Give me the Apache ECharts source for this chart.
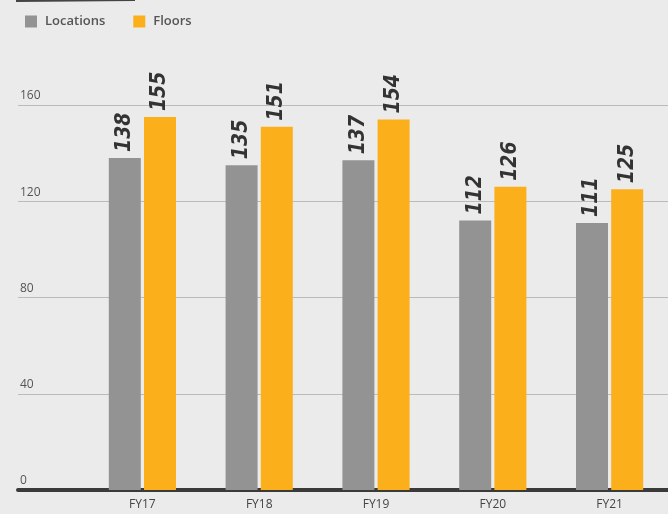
<!DOCTYPE html>
<html><head><meta charset="utf-8">
<style>html,body{margin:0;padding:0;background:#ebebeb;}#c{width:668px;height:514px;}</style>
<script src="https://cdn.jsdelivr.net/npm/echarts@6/dist/echarts.min.js"></script>
</head><body><div id="c"></div>
<script>
const categories = ['FY17','FY18','FY19','FY20','FY21'];
const locations = [138,135,137,112,111];
const floors = [155,151,154,126,125];
const yTicks = [0,40,80,120,160];

const chart = echarts.init(document.getElementById('c'));
const labelStyle = {
  show: true, position: 'top', rotate: 90, align: 'left', verticalAlign: 'middle', distance: 6,
  color: '#333', fontSize: 21, fontWeight: 'bold', fontStyle: 'italic', fontFamily: 'DejaVu Sans Condensed'
};
chart.setOption({
  backgroundColor: '#ebebeb',
  animation: false,
  legend: {
    left: 20, top: 10, itemWidth: 12, itemHeight: 12, itemGap: 28,
    icon: 'rect',
    textStyle: {color: '#555', fontSize: 13, fontWeight: 600, fontFamily: 'Open Sans', padding:[0,0,0,3]},
    data: ['Locations','Floors']
  },
  graphic: [{type:'line', shape:{x1:16,y1:1,x2:135,y2:0}, style:{stroke:'#444', lineWidth:2}}],
  grid: [
    {left: 18, right: 0, top: 105, bottom: 24},
    {left: 84, right: 0, top: 105, bottom: 24}
  ],
  xAxis: [
    {gridIndex:0, type:'category', data:[''], axisTick:{show:false}, axisLabel:{show:false},
     axisLine:{show:true, lineStyle:{color:'#3a3a3a', width:4}}},
    {gridIndex:1, type:'category', data:categories, axisTick:{show:false}, axisLine:{show:false},
     axisLabel:{color:'#444', fontSize:12, fontFamily:'Open Sans', margin:9}}
  ],
  yAxis: [
    {gridIndex:0, type:'value', min:yTicks[0], max:yTicks[yTicks.length-1], interval:40,
     axisLine:{show:false}, axisTick:{show:false},
     axisLabel:{inside:true, verticalAlign:'bottom', margin:2, color:'#555', fontSize:12, fontFamily:'Open Sans', padding:[0,0,3,0]},
     splitLine:{lineStyle:{color:'#bbbbbb', width:1}}},
    {gridIndex:1, type:'value', min:yTicks[0], max:yTicks[yTicks.length-1], interval:40, show:false, splitLine:{show:false}}
  ],
  series: [
    {name:'Locations', type:'bar', xAxisIndex:1, yAxisIndex:1, data:locations, barWidth:32, barGap:'10%',
     itemStyle:{color:'#939393'}, label:labelStyle, z:3},
    {name:'Floors', type:'bar', xAxisIndex:1, yAxisIndex:1, data:floors, barWidth:32, barGap:'10%',
     itemStyle:{color:'#fbb01b'}, label:labelStyle, z:3}
  ]
});
</script></body></html>
